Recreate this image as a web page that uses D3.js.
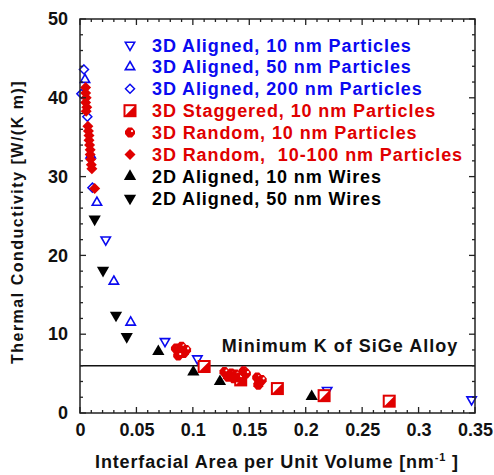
<!DOCTYPE html>
<html>
<head>
<meta charset="utf-8">
<script src="https://cdn.jsdelivr.net/npm/d3@7"></script>
<style>
  html, body { margin: 0; padding: 0; background: #fff; }
  svg { display: block; font-family: "Liberation Sans", Arial, sans-serif; font-weight: bold; }
</style>
</head>
<body>
<svg id="chart" width="494" height="475"></svg>
<script>
// Thermal conductivity of SiGe nanocomposites vs. interfacial area per unit volume

// 3D Aligned, 10 nm Particles
const aligned10X = [0.0228, 0.0753, 0.104, 0.219, 0.347];
const aligned10Y = [22.0, 9.1, 6.9, 2.9, 1.7];
// 3D Aligned, 50 nm Particles
const aligned50X = [0.0044, 0.0095, 0.0150, 0.0300, 0.0449, 0.1440];
const aligned50Y = [42.3, 32.7, 26.7, 16.7, 11.5, 5.1];
// 3D Aligned, 200 nm Particles
const aligned200X = [0.0035, 0.0012, 0.0065, 0.0110];
const aligned200Y = [43.6, 40.5, 37.6, 28.6];
// 3D Staggered, 10 nm Particles
const staggeredX = [0.110, 0.1424, 0.1749, 0.2163, 0.274];
const staggeredY = [5.9, 4.2, 3.1, 2.2, 1.5];
// 3D Random, 10 nm Particles
const random10X = [0.085, 0.088, 0.090, 0.092, 0.087, 0.094, 0.128, 0.131, 0.134, 0.136, 0.138, 0.141, 0.145, 0.147, 0.157, 0.159, 0.158, 0.161];
const random10Y = [8.2, 7.8, 8.4, 7.6, 7.3, 8.0, 5.2, 4.6, 5.0, 4.4, 4.9, 4.5, 5.3, 5.0, 4.5, 4.0, 3.6, 4.2];
// 3D Random, 10-100 nm Particles
const random100X = [0.0050, 0.0050, 0.0055, 0.0050, 0.0060, 0.0055, 0.0070, 0.0075, 0.0080, 0.0080, 0.0085, 0.0090, 0.0090, 0.0095, 0.0100, 0.0105, 0.0130];
const random100Y = [41.3, 40.6, 40.0, 39.4, 38.8, 38.3, 36.4, 35.8, 35.2, 34.6, 34.0, 33.4, 32.8, 32.2, 31.5, 31.0, 28.5];
// 2D Aligned, 10 nm Wires
const wires10X = [0.0694, 0.1004, 0.124, 0.2053];
const wires10Y = [7.8, 5.2, 4.0, 2.1];
// 2D Aligned, 50 nm Wires
const wires50X = [0.0130, 0.0204, 0.0319, 0.0414];
const wires50Y = [24.6, 18.1, 12.4, 9.7];

// Alloy limit
const alloyMinK = 6.0;
const alloyLabel = "Minimum K of SiGe Alloy";

// Axes
const xTicks = [0, 0.05, 0.1, 0.15, 0.2, 0.25, 0.3, 0.35];
const xTickLabels = ["0", "0.05", "0.1", "0.15", "0.2", "0.25", "0.3", "0.35"];
const yTicks = [0, 10, 20, 30, 40, 50];
const xTitle = "Interfacial Area per Unit Volume [nm";
const yTitle = "Thermal Conductivity [W/(K m)]";

const BLUE = "#0a0af0", RED = "#e00000", BLACK = "#000";

const svg = d3.select("#chart");
const m = { left: 80, right: 475, top: 19, bottom: 413 };
const x = d3.scaleLinear().domain([0, 0.35]).range([m.left, m.right]);
const y = d3.scaleLinear().domain([0, 50]).range([m.bottom, m.top]);

// marker drawers: each appends a shape centred at (0,0) into g
const markers = {
  downOpen: g => g.append("path").attr("d", d3.symbol(d3.symbolTriangle, 38)()).attr("transform", "rotate(180)")
      .attr("fill", "#fff").attr("stroke", BLUE).attr("stroke-width", 1.6),
  upOpen: g => g.append("path").attr("d", d3.symbol(d3.symbolTriangle, 38)())
      .attr("fill", "#fff").attr("stroke", BLUE).attr("stroke-width", 1.6),
  diamondOpen: g => g.append("path").attr("d", "M0,-4.5L4.5,0L0,4.5L-4.5,0Z")
      .attr("fill", "#fff").attr("stroke", BLUE).attr("stroke-width", 1.5),
  squareHalf: g => {
    g.append("rect").attr("x", -5.5).attr("y", -5.5).attr("width", 11).attr("height", 11)
      .attr("fill", "#fff").attr("stroke", RED).attr("stroke-width", 2);
    g.append("path").attr("d", "M5.5,-5.5L5.5,5.5L-5.5,5.5Z").attr("fill", RED);
  },
  blob: g => {
    g.append("path").attr("d", "M-2,-5L2,-5L5,-1.5L5,1.5L2,5L-2,5L-5,1.5L-5,-1.5Z").attr("fill", RED);
    g.append("circle").attr("cx", 2).attr("cy", -1.5).attr("r", 1.1).attr("fill", "#fff");
  },
  diamondFill: g => g.append("path").attr("d", "M0,-5.5L5.5,0L0,5.5L-5.5,0Z").attr("fill", RED),
  upFill: g => g.append("path").attr("d", d3.symbol(d3.symbolTriangle, 65)()).attr("fill", BLACK),
  downFill: g => g.append("path").attr("d", d3.symbol(d3.symbolTriangle, 65)()).attr("transform", "rotate(180)").attr("fill", BLACK)
};

const series = [
  { name: "3D Aligned, 10 nm Particles", xs: aligned10X, ys: aligned10Y, mk: "downOpen", color: BLUE },
  { name: "3D Aligned, 50 nm Particles", xs: aligned50X, ys: aligned50Y, mk: "upOpen", color: BLUE },
  { name: "3D Aligned, 200 nm Particles", xs: aligned200X, ys: aligned200Y, mk: "diamondOpen", color: BLUE },
  { name: "3D Staggered, 10 nm Particles", xs: staggeredX, ys: staggeredY, mk: "squareHalf", color: RED },
  { name: "3D Random, 10 nm Particles", xs: random10X, ys: random10Y, mk: "blob", color: RED },
  { name: "3D Random,  10-100 nm Particles", xs: random100X, ys: random100Y, mk: "diamondFill", color: RED },
  { name: "2D Aligned, 10 nm Wires", xs: wires10X, ys: wires10Y, mk: "upFill", color: BLACK },
  { name: "2D Aligned, 50 nm Wires", xs: wires50X, ys: wires50Y, mk: "downFill", color: BLACK }
];

// Minimum-K line
svg.append("line").attr("x1", x(0)).attr("x2", x(0.35)).attr("y1", y(alloyMinK)).attr("y2", y(alloyMinK))
  .attr("stroke", "#111").attr("stroke-width", 1.5);
svg.append("text").attr("x", 340).attr("y", 352).attr("text-anchor", "middle")
  .attr("font-size", 18).attr("letter-spacing", 1).attr("fill", "#111").text(alloyLabel);

// Data points, drawn in draw order so later series sit on top
const plot = svg.append("g");
series.forEach(s => {
  s.xs.forEach((xv, i) => {
    const g = plot.append("g").attr("transform", `translate(${x(xv)},${y(s.ys[i])})`);
    markers[s.mk](g);
  });
});

// Frame with inward ticks on all four sides
const frame = svg.append("g").attr("stroke", "#222").attr("fill", "none");
frame.append("rect").attr("x", m.left).attr("y", m.top).attr("width", m.right - m.left).attr("height", m.bottom - m.top)
  .attr("stroke-width", 1.5);
d3.range(0, 0.3501, 0.01).forEach(v => {
  const major = Math.abs(Math.round(v * 100) % 5) === 0;
  const len = major ? 6 : 3;
  frame.append("line").attr("x1", x(v)).attr("x2", x(v)).attr("y1", m.bottom).attr("y2", m.bottom - len).attr("stroke-width", 1.3);
  frame.append("line").attr("x1", x(v)).attr("x2", x(v)).attr("y1", m.top).attr("y2", m.top + len).attr("stroke-width", 1.3);
});
d3.range(0, 50.01, 2).forEach(v => {
  const major = v % 10 === 0;
  const len = major ? 6 : 3;
  frame.append("line").attr("x1", m.left).attr("x2", m.left + len).attr("y1", y(v)).attr("y2", y(v)).attr("stroke-width", 1.3);
  frame.append("line").attr("x1", m.right).attr("x2", m.right - len).attr("y1", y(v)).attr("y2", y(v)).attr("stroke-width", 1.3);
});

// Tick labels via d3 axes (lines hidden; frame draws the ticks)
const xAxis = svg.append("g").attr("transform", `translate(0,${m.bottom})`)
  .call(d3.axisBottom(x).tickValues(xTicks).tickFormat((d, i) => xTickLabels[i]).tickSize(0).tickPadding(10));
const yAxis = svg.append("g").attr("transform", `translate(${m.left},0)`)
  .call(d3.axisLeft(y).tickValues(yTicks).tickSize(0).tickPadding(12));
[xAxis, yAxis].forEach(a => {
  a.select(".domain").remove();
  a.selectAll("text").attr("font-size", 18).attr("font-family", "'Liberation Sans', Arial, sans-serif")
    .attr("font-weight", "bold").attr("fill", "#111");
});

// Axis titles
const xt = svg.append("text").attr("x", 277).attr("y", 468).attr("text-anchor", "middle")
  .attr("font-size", 18).attr("letter-spacing", 0.85).attr("fill", "#111");
xt.append("tspan").text(xTitle);
xt.append("tspan").attr("font-size", 11).attr("dy", -7).text("-1");
xt.append("tspan").attr("dy", 7).text(" ]");
svg.append("text").attr("transform", "translate(23,222) rotate(-90)").attr("text-anchor", "middle")
  .attr("font-size", 16).attr("letter-spacing", 1.5).attr("fill", "#111").text(yTitle);

// Legend
const leg = svg.append("g");
series.forEach((s, i) => {
  const cy = 45 + i * 21.9;
  const g = leg.append("g").attr("transform", `translate(130,${cy})`);
  markers[s.mk](g);
  leg.append("text").attr("x", 152).attr("y", cy + 6.5).attr("font-size", 18).attr("letter-spacing", 0.9)
    .attr("fill", s.color).style("white-space", "pre").text(s.name);
});
</script>
</body>
</html>
